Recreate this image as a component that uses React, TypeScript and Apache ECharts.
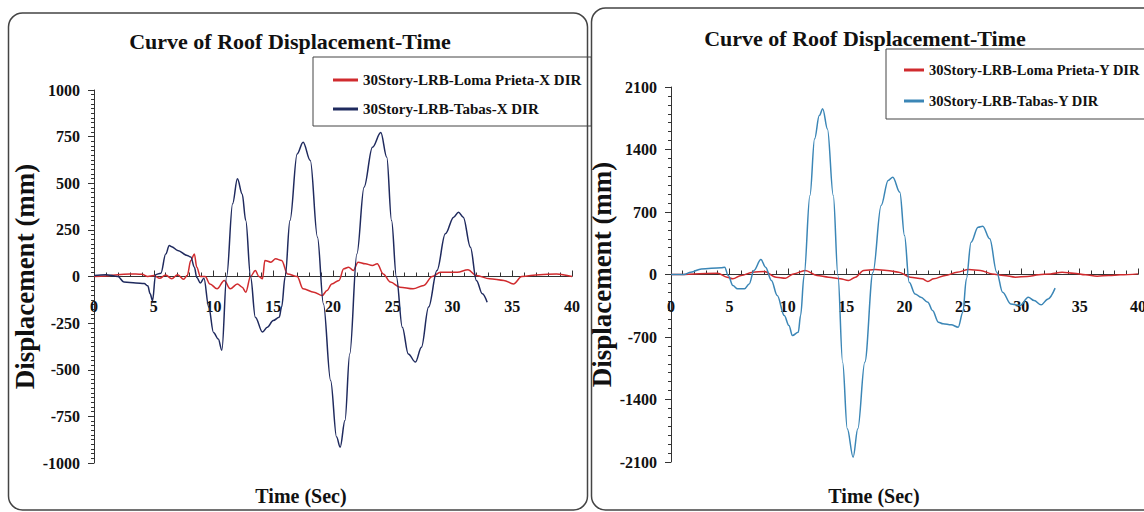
import React, { useEffect, useRef } from "react";
import * as echarts from "echarts";

const FONT = "'Liberation Serif', 'Times New Roman', serif";

const chartTitle = "Curve of Roof Displacement-Time";
const yAxisName = "Displacement (mm)";
const xAxisName = "Time (Sec)";

const nameLomaX = "30Story-LRB-Loma Prieta-X DIR";
const nameTabasX = "30Story-LRB-Tabas-X DIR";
const nameLomaY = "30Story-LRB-Loma Prieta-Y DIR";
const nameTabasY = "30Story-LRB-Tabas-Y DIR";

// Left chart (X direction)
const tabasXTime = [0, 1, 2, 2.5, 3.5, 4.2, 4.5, 4.7, 4.9, 5.15, 5.6, 6.0, 6.3, 6.5, 7.0, 7.8, 8.1, 8.4, 8.6, 8.9, 9.2, 9.6, 10.0, 10.4, 10.7, 11.1, 11.6, 12.0, 12.4, 12.7, 13.1, 13.5, 14.1, 14.5, 15.0, 15.5, 15.7, 16.0, 16.4, 17.0, 17.5, 18.1, 18.7, 19.2, 19.8, 20.3, 20.6, 21.0, 21.4, 22.0, 22.6, 23.3, 24.0, 24.5, 24.9, 25.3, 25.8, 26.3, 26.9, 27.4, 28.0, 28.7, 29.4, 30.1, 30.5, 30.9, 31.5, 32.0, 32.5, 32.9];
const tabasXDisp = [5, 10, 0, -30, -35, -38, -50, -93, -130, 10, 18, 120, 166, 160, 140, 113, 104, 50, -5, -35, -10, -164, -300, -335, -395, 0, 390, 524, 443, 300, 0, -218, -298, -272, -236, -218, -164, 0, 300, 657, 720, 622, 211, -147, -557, -861, -915, -772, -415, 121, 479, 693, 772, 640, 300, 0, -272, -415, -459, -379, -164, 32, 229, 318, 345, 318, 157, -21, -93, -138];

const lomaXTime = [0, 1, 2, 3, 4, 4.5, 5, 5.5, 6, 6.5, 7, 7.5, 7.8, 8.1, 8.4, 8.6, 8.9, 9.3, 9.7, 10.3, 10.9, 11.4, 12, 12.4, 12.7, 13.1, 13.5, 13.8, 14.1, 14.3, 14.8, 15.2, 15.7, 16.2, 17, 17.5, 18.4, 19.1, 19.5, 19.9, 20.5, 20.9, 21.3, 21.7, 22.1, 22.7, 23.3, 23.7, 24.2, 24.8, 25.6, 26.7, 27.6, 28.3, 29, 30.4, 31.3, 32, 33.1, 34.3, 35.1, 35.8, 37.3, 38.7, 40];
const lomaXDisp = [0, 3, 10, 14, 12, 0, 5, -10, 8, -12, 10, -15, 5, 86, 120, 50, 0, 0, -40, -66, -21, -66, -40, -57, -84, 0, 32, 0, -12, 86, 77, 95, 86, 14, 0, -66, -84, -102, -75, -40, -21, 41, 50, 32, 77, 68, 59, 68, 14, -30, -57, -66, -48, 0, 23, 23, 36, 5, -12, -21, -40, 0, 10, 14, 0];

// Right chart (Y direction)
const tabasYTime = [0, 1.1, 1.7, 2.6, 4.3, 4.6, 4.9, 5.3, 5.7, 6.3, 6.7, 7.1, 7.7, 8.1, 8.6, 9.1, 9.7, 10.1, 10.4, 10.9, 11.1, 11.4, 11.9, 12.3, 12.7, 13.0, 13.4, 13.9, 14.3, 14.7, 15.1, 15.6, 16.0, 16.6, 17.3, 18.0, 18.6, 19.0, 19.6, 20.0, 20.4, 20.9, 21.4, 22.0, 22.4, 22.9, 23.3, 24.0, 24.6, 25.0, 25.3, 25.7, 26.3, 26.7, 27.3, 27.9, 28.4, 29.1, 29.9, 30.6, 31.1, 31.7, 32.3, 32.9];
const tabasYDisp = [0, 0, 26, 63, 75, 82, -11, -123, -160, -160, -105, 45, 168, 82, -67, -235, -459, -571, -683, -646, -459, -11, 885, 1519, 1780, 1855, 1631, 885, -11, -982, -1728, -2046, -1728, -982, 26, 773, 1053, 1090, 922, 437, -86, -217, -254, -310, -403, -534, -552, -564, -590, -422, -49, 362, 530, 541, 400, 26, -198, -329, -347, -254, -291, -340, -273, -153];

const lomaYTime = [0, 1, 2, 4, 4.8, 5.3, 6, 7, 8, 9, 9.8, 10.5, 11.5, 12.5, 13.5, 14.5, 15.2, 15.8, 16.5, 17.5, 18.5, 19.5, 20.5, 21.5, 22, 22.5, 23.5, 24.5, 25.5, 26.5, 27.5, 28.5, 29.5, 30.5, 31.5, 32.5, 33.5, 34.5, 35.5, 36.5, 37.5, 38.5, 40];
const lomaYDisp = [0, 0, 5, 15, -30, -48, -11, 26, 33, -30, -41, 7, 45, -11, -30, -48, -67, -30, 45, 56, 45, 26, -30, -48, -78, -48, -11, 26, 56, 45, 7, -11, -30, -22, -4, 7, 26, 15, -4, -19, -11, -4, 7];

const xTicks = { min: 0, max: 40, interval: 5 };
const leftY = { min: -1000, max: 1000, interval: 250 };
const rightY = { min: -2100, max: 2100, interval: 700 };

const RED = "#d02b2e";
const NAVY = "#1f2a5e";
const STEEL = "#3b86b6";
const AXIS = "#333333";

const zip = (t: number[], v: number[]) => t.map((x, i) => [x, v[i]]);

function xAxisCfg(gridIndex: number, labelMargin: number) {
  return {
    type: "value",
    gridIndex,
    min: xTicks.min,
    max: xTicks.max,
    interval: xTicks.interval,
    axisLine: { onZero: true, lineStyle: { color: AXIS, width: 1 } },
    axisTick: { show: true, inside: true, length: 6, lineStyle: { color: AXIS } },
    minorTick: { show: true, splitNumber: 5, length: 4, lineStyle: { color: AXIS } },
    axisLabel: { fontFamily: FONT, fontWeight: "bold", fontSize: 16, color: "#111", margin: labelMargin, formatter: (v: number) => String(v) },
    splitLine: { show: false },
  };
}

function yAxisCfg(gridIndex: number, r: { min: number; max: number; interval: number }, minorSplit: number, nameGap: number) {
  return {
    type: "value",
    gridIndex,
    min: r.min,
    max: r.max,
    interval: r.interval,
    name: yAxisName,
    nameLocation: "middle",
    nameGap,
    nameTextStyle: { fontFamily: FONT, fontWeight: "bold", fontSize: 27, color: "#111" },
    axisLine: { show: true, lineStyle: { color: AXIS, width: 1 } },
    axisTick: { show: true, inside: false, length: 6, lineStyle: { color: AXIS } },
    minorTick: { show: true, splitNumber: minorSplit, length: 3, lineStyle: { color: AXIS } },
    axisLabel: { fontFamily: FONT, fontWeight: "bold", fontSize: 16, color: "#111", margin: 14, formatter: (v: number) => String(v) },
    splitLine: { show: false },
  };
}

function lineSeries(name: string, xi: number, data: number[][], color: string) {
  return {
    name,
    type: "line",
    xAxisIndex: xi,
    yAxisIndex: xi,
    data,
    showSymbol: false,
    symbol: "none",
    smooth: 0.35,
    smoothMonotone: "x",
    lineStyle: { color, width: 1.5 },
    itemStyle: { color },
  };
}

export default function App() {
  const ref = useRef<HTMLDivElement>(null);

  useEffect(() => {
    if (!ref.current) return;
    const chart = echarts.init(ref.current, null, { renderer: "svg" });
    const legendText = { fontFamily: FONT, fontWeight: "bold", fontSize: 15, color: "#111", lineHeight: 16 };
    const xNameStyle = { fontFamily: FONT, fontWeight: "bold", fontSize: 20, fill: "#111", align: "center", verticalAlign: "middle" };
    chart.setOption({
      animation: false,
      backgroundColor: "#ffffff",
      title: [
        { text: chartTitle, left: 285, top: 25, textAlign: "center", textStyle: { fontFamily: FONT, fontWeight: "bold", fontSize: 22, color: "#111" } },
        { text: chartTitle, left: 860, top: 22, textAlign: "center", textStyle: { fontFamily: FONT, fontWeight: "bold", fontSize: 22, color: "#111" } },
      ],
      legend: [
        {
          data: [nameLomaX, nameTabasX],
          orient: "vertical",
          left: 313,
          top: 57,
          padding: [15, 10, 9, 20],
          itemGap: 13,
          itemWidth: 25,
          itemHeight: 3,
          icon: "rect",
          borderColor: "#444",
          borderWidth: 1,
          textStyle: legendText,
        },
        {
          data: [nameLomaY, nameTabasY],
          orient: "vertical",
          left: 886,
          top: 49,
          padding: [13, 20, 10, 18],
          itemGap: 15,
          itemWidth: 20,
          itemHeight: 3,
          icon: "rect",
          borderColor: "#444",
          borderWidth: 1,
          textStyle: { ...legendText, fontSize: 14.5 },
        },
      ],
      grid: [
        { left: 94, right: 1144 - 572, top: 90, bottom: 512 - 463, containLabel: false, outerBoundsMode: "none" },
        { left: 671, right: 1144 - 1138, top: 87, bottom: 512 - 462, containLabel: false, outerBoundsMode: "none" },
      ],
      xAxis: [xAxisCfg(0, -165), xAxisCfg(1, -164)],
      yAxis: [yAxisCfg(0, leftY, 10, 56), yAxisCfg(1, rightY, 7, 52)],
      series: [
        lineSeries(nameLomaX, 0, zip(lomaXTime, lomaXDisp), RED),
        lineSeries(nameTabasX, 0, zip(tabasXTime, tabasXDisp), NAVY),
        lineSeries(nameLomaY, 1, zip(lomaYTime, lomaYDisp), RED),
        lineSeries(nameTabasY, 1, zip(tabasYTime, tabasYDisp), STEEL),
      ],
      graphic: [
        { type: "rect", silent: true, z: -1, shape: { x: 8.5, y: 13, width: 579, height: 497, r: 14 }, style: { fill: "none", stroke: "#444", lineWidth: 1.5 } },
        { type: "rect", silent: true, z: -1, shape: { x: 591.5, y: 8, width: 580, height: 502, r: 14 }, style: { fill: "none", stroke: "#444", lineWidth: 1.5 } },
        { type: "text", silent: true, x: 301, y: 496, style: { text: xAxisName, ...xNameStyle } },
        { type: "text", silent: true, x: 874, y: 496, style: { text: xAxisName, ...xNameStyle } },
      ],
    });
    return () => chart.dispose();
  }, []);

  return <div ref={ref} style={{ position: "fixed", left: 0, top: 0, width: 1144, height: 512 }} />;
}
